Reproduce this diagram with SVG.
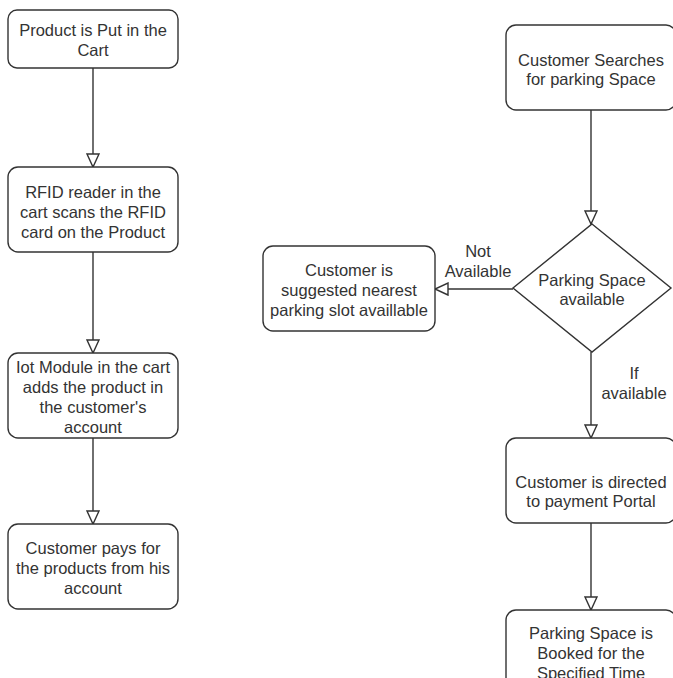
<svg xmlns="http://www.w3.org/2000/svg" width="673" height="678" viewBox="0 0 673 678">
<style>
.n{fill:#fff;stroke:#333;stroke-width:1.4}
.t{font-family:"Liberation Sans",Arial,sans-serif;font-size:16.5px;fill:#333;text-anchor:middle}
.e{fill:none;stroke:#333;stroke-width:1.4}
</style>
<defs>
<marker id="a" markerUnits="userSpaceOnUse" markerWidth="16" markerHeight="14" refX="14" refY="7" orient="auto" viewBox="0 0 16 14">
<path d="M1,1 L14,7 L1,13 Z" fill="#fff" stroke="#333" stroke-width="1.4"/>
</marker>
</defs>
<rect width="673" height="678" fill="#fff"/>
<g id="connectors">
<path class="e" d="M93,68 V167" marker-end="url(#a)"/>
<path class="e" d="M93,252 V353" marker-end="url(#a)"/>
<path class="e" d="M93,438 V524" marker-end="url(#a)"/>
<path class="e" d="M591,110 V224" marker-end="url(#a)"/>
<path class="e" d="M513,289 H435" marker-end="url(#a)"/>
<path class="e" d="M591,352 V438" marker-end="url(#a)"/>
<path class="e" d="M591,523 V610" marker-end="url(#a)"/>
<text class="t"><tspan x="478" y="257">Not</tspan><tspan x="478" y="277">Available</tspan></text>
<text class="t"><tspan x="634" y="379">If</tspan><tspan x="634" y="399">available</tspan></text>
</g>
<g id="n1">
<rect class="n" x="8" y="10" width="170" height="58" rx="9"/>
<text class="t"><tspan x="93" y="36">Product is Put in the</tspan><tspan x="93" y="56">Cart</tspan></text>
</g>
<g id="n2">
<rect class="n" x="8" y="167" width="170" height="85" rx="10"/>
<text class="t"><tspan x="93" y="198">RFID reader in the</tspan><tspan x="93" y="218">cart scans the RFID</tspan><tspan x="93" y="238">card on the Product</tspan></text>
</g>
<g id="n3">
<rect class="n" x="8" y="353" width="170" height="85" rx="10"/>
<text class="t"><tspan x="93" y="373">Iot Module in the cart</tspan><tspan x="93" y="393">adds the product in</tspan><tspan x="93" y="413">the customer's</tspan><tspan x="93" y="433">account</tspan></text>
</g>
<g id="n4">
<rect class="n" x="8" y="524" width="170" height="85" rx="10"/>
<text class="t"><tspan x="93" y="554">Customer pays for</tspan><tspan x="93" y="574">the products from his</tspan><tspan x="93" y="594">account</tspan></text>
</g>
<g id="n5">
<rect class="n" x="506" y="25" width="170" height="85" rx="10"/>
<text class="t"><tspan x="591" y="66">Customer Searches</tspan><tspan x="591" y="85">for parking Space</tspan></text>
</g>
<g id="n6">
<path class="n" d="M592,224 L671,288 L592,352 L513,288 Z"/>
<text class="t"><tspan x="592" y="286">Parking Space</tspan><tspan x="592" y="305">available</tspan></text>
</g>
<g id="n7">
<rect class="n" x="263" y="246" width="172" height="85" rx="10"/>
<text class="t"><tspan x="349" y="276">Customer is</tspan><tspan x="349" y="296">suggested nearest</tspan><tspan x="349" y="316">parking slot availlable</tspan></text>
</g>
<g id="n8">
<rect class="n" x="506" y="438" width="170" height="85" rx="10"/>
<text class="t"><tspan x="591" y="488">Customer is directed</tspan><tspan x="591" y="507">to payment Portal</tspan></text>
</g>
<g id="n9">
<rect class="n" x="506" y="610" width="170" height="85" rx="10"/>
<text class="t"><tspan x="591" y="639">Parking Space is</tspan><tspan x="591" y="659">Booked for the</tspan><tspan x="591" y="679">Specified Time</tspan></text>
</g>
</svg>
